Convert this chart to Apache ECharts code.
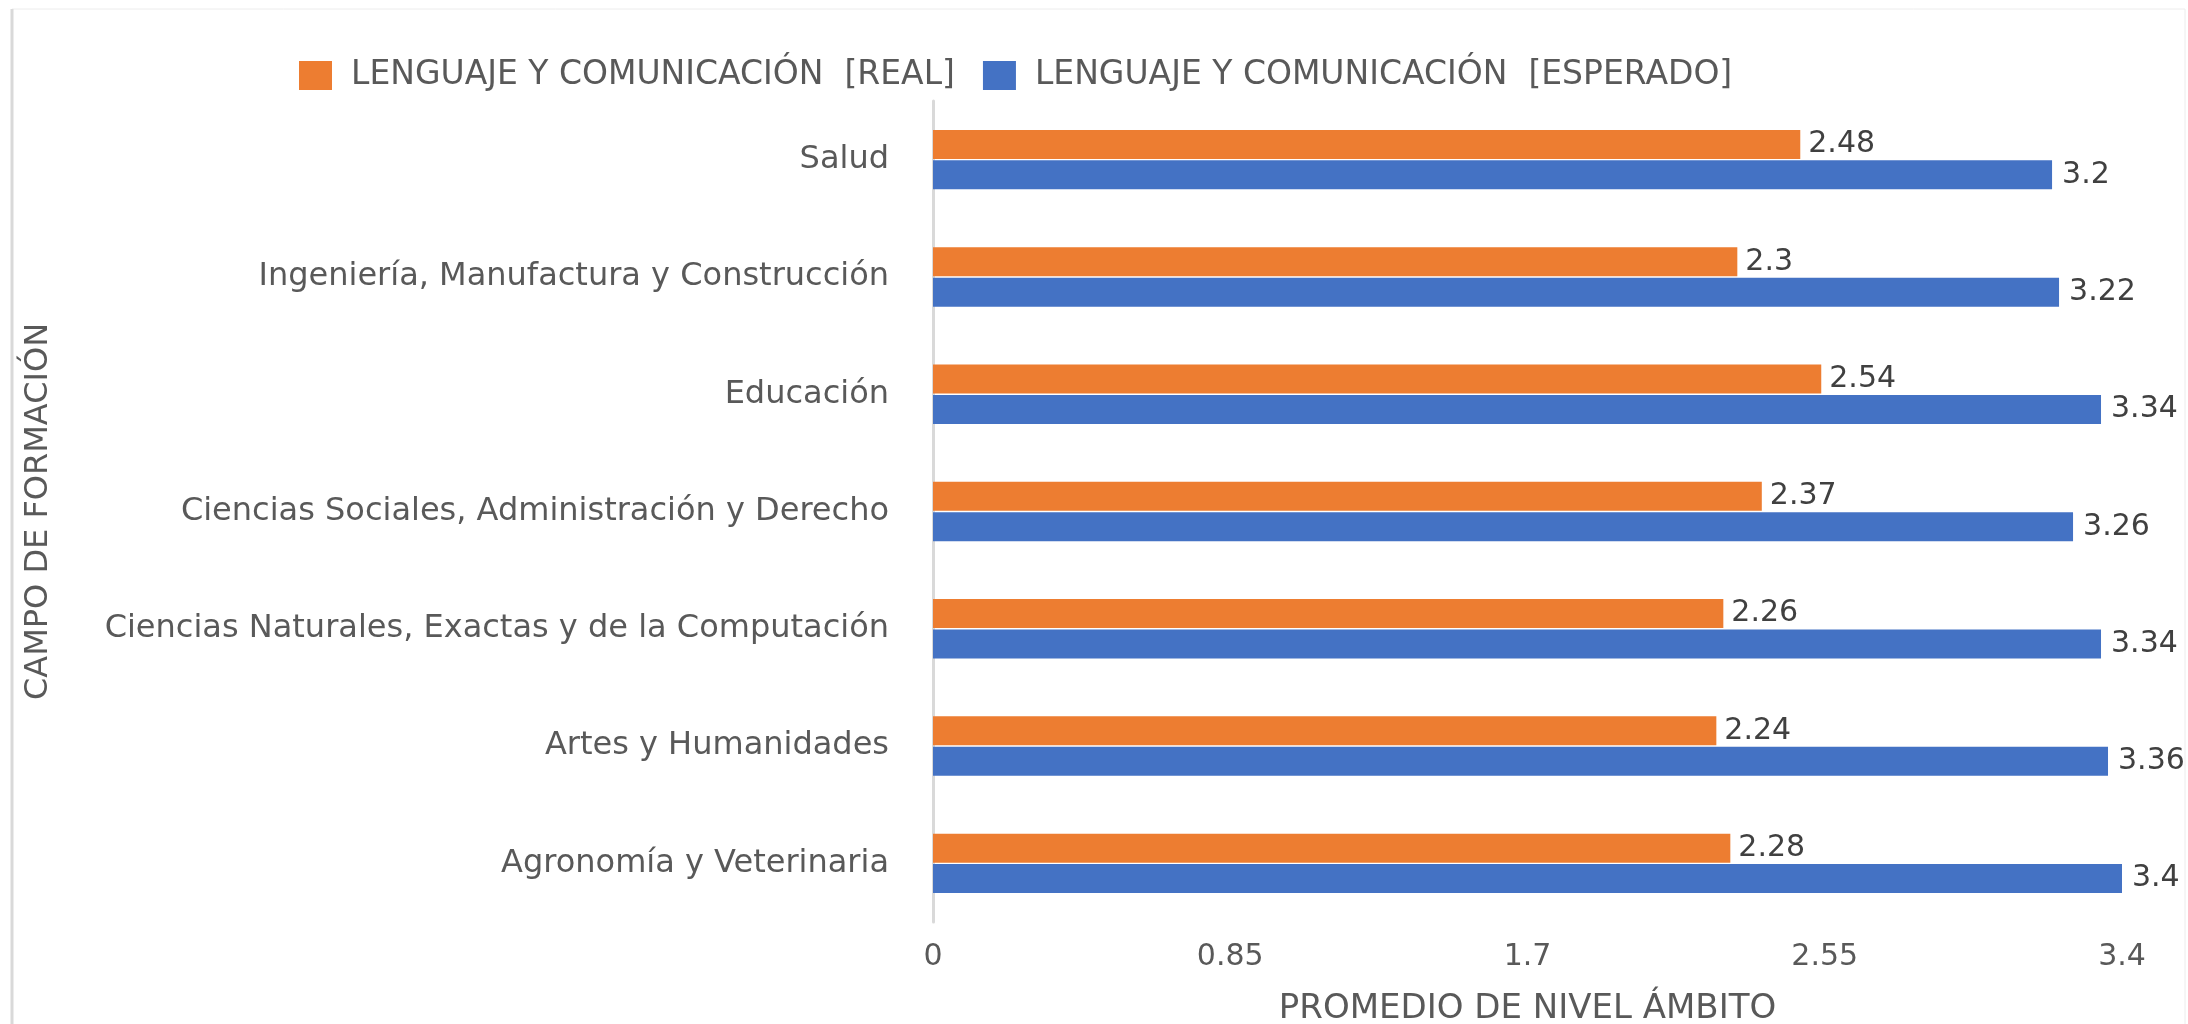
<!DOCTYPE html>
<html>
<head>
<meta charset="utf-8">
<script src="https://cdn.jsdelivr.net/npm/echarts@6/dist/echarts.min.js"></script>
<style>
  html, body { margin: 0; padding: 0; background: #fff; }
  #chart { width: 2188px; height: 1024px; }
</style>
</head>
<body>
<div id="chart"></div>
<script>
// campos de formación (de arriba hacia abajo)
var categorias = [
  'Salud',
  'Ingeniería, Manufactura y Construcción',
  'Educación',
  'Ciencias Sociales, Administración y Derecho',
  'Ciencias Naturales, Exactas y de la Computación',
  'Artes y Humanidades',
  'Agronomía y Veterinaria'
]
var real = [2.48, 2.3, 2.54, 2.37, 2.26, 2.24, 2.28]
var esperado = [3.2, 3.22, 3.34, 3.26, 3.34, 3.36, 3.4]
var ticksX = [0, 0.85, 1.7, 2.55, 3.4]

var serieReal = 'LENGUAJE Y COMUNICACIÓN  [REAL]'
var serieEsperado = 'LENGUAJE Y COMUNICACIÓN  [ESPERADO]'

var fuente = 'DejaVu Sans'
var gris = '#595959'

var chart = echarts.init(document.getElementById('chart'))

var option = {
  backgroundColor: '#fff',
  textStyle: { fontFamily: fuente },
  animation: false,
  graphic: [
    { // marco del gráfico
      type: 'rect',
      shape: { x: 12, y: 9, width: 2173, height: 1030 },
      style: { fill: 'none', stroke: '#ececec', lineWidth: 1 }
    },
    {
      type: 'line',
      shape: { x1: 12, y1: 9, x2: 12, y2: 1024 },
      style: { stroke: '#d9d9d9', lineWidth: 3 }
    }
  ],
  legend: {
    left: 294,
    top: 54,
    itemWidth: 33,
    itemHeight: 29,
    itemGap: 28,
    icon: 'rect',
    textStyle: { fontSize: 33, color: gris, fontFamily: fuente, padding: [0, 0, 0, 14] },
    data: [serieReal, serieEsperado]
  },
  grid: {
    left: 933,
    right: 66,
    top: 101,
    bottom: 102,
    containLabel: false,
    outerBoundsMode: 'none'
  },
  xAxis: {
    type: 'value',
    min: 0,
    max: 3.4,
    interval: 0.85,
    name: 'PROMEDIO DE NIVEL ÁMBITO',
    nameLocation: 'middle',
    nameGap: 70,
    nameTextStyle: { fontSize: 34, color: gris, fontFamily: fuente },
    axisLine: { show: false },
    axisTick: { show: false },
    splitLine: { show: false },
    axisLabel: {
      fontSize: 30,
      color: gris,
      margin: 20,
      formatter: function (v) {
        var t = ticksX.filter(function (x) { return Math.abs(x - v) < 1e-6 })
        return t.length ? String(t[0]) : ''
      }
    }
  },
  yAxis: {
    type: 'category',
    inverse: true,
    data: categorias,
    name: 'CAMPO DE FORMACIÓN',
    nameLocation: 'middle',
    nameGap: 878,
    nameTextStyle: { fontSize: 32, color: gris, fontFamily: fuente },
    axisLine: { show: true, lineStyle: { color: '#d9d9d9', width: 3 } },
    axisTick: { show: false },
    axisLabel: { fontSize: 32, color: gris, margin: 44 }
  },
  series: [
    {
      name: serieReal,
      type: 'bar',
      data: real,
      barWidth: 29,
      barGap: '5%',
      itemStyle: { color: '#ED7D31' },
      label: { show: true, position: 'right', distance: 8, fontSize: 30, color: '#404040' }
    },
    {
      name: serieEsperado,
      type: 'bar',
      data: esperado,
      barWidth: 29,
      barGap: '5%',
      itemStyle: { color: '#4472C4' },
      label: { show: true, position: 'right', distance: 10, fontSize: 30, color: '#404040' }
    }
  ]
}

chart.setOption(option)
</script>
</body>
</html>
